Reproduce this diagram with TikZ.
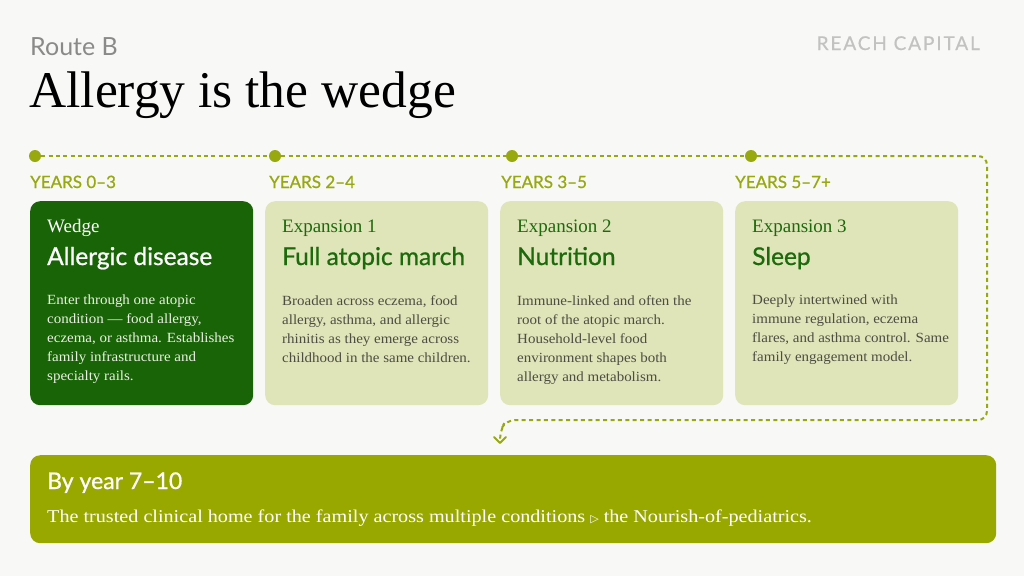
\documentclass[tikz,border=0pt]{standalone}
\usepackage{fontspec}
\setmainfont{Liberation Serif}
\setsansfont{Lato}
\newfontfamily\symfont{DejaVu Sans}
\usetikzlibrary{calc,arrows.meta}
\definecolor{bgc}{HTML}{F8F8F6}
\definecolor{dkgreen}{HTML}{1A6408}
\definecolor{hdgreen}{HTML}{1C6A0C}
\definecolor{ltcard}{HTML}{E0E4B9}
\definecolor{olive}{HTML}{99A800}
\definecolor{tlolive}{HTML}{97A90F}
\definecolor{bodygrey}{HTML}{4D4D42}
\definecolor{routegrey}{HTML}{8A8A88}
\definecolor{reachgrey}{HTML}{C2C2C0}
\definecolor{wbody}{HTML}{EAF0E2}
\tikzset{
  card/.style={rounded corners=10pt, minimum width=223pt, minimum height=204pt, anchor=north west, inner sep=0pt},
  dot/.style={circle, fill=tlolive, minimum size=12pt, inner sep=0pt},
  tl/.style={tlolive, line width=2pt, dash pattern=on 4pt off 3.4pt},
  yrs/.style={anchor=base west, inner sep=0pt, text=tlolive, font=\sffamily\fontsize{17}{18}\selectfont\addfontfeature{FakeBold=0.6}},
  sub/.style={anchor=base west, inner sep=0pt, font=\fontsize{19}{20}\selectfont},
  head/.style={anchor=base west, inner sep=0pt, font=\sffamily\fontsize{24.5}{26}\selectfont\addfontfeature{FakeBold=0.8}},
  body/.style={anchor=north west, inner sep=0pt, align=left, font=\fontsize{14}{19}\selectfont\addfontfeature{FakeStretch=1.07}},
}
\begin{document}
\begin{tikzpicture}[x=1pt,y=-1pt]
\fill[bgc] (0,0) rectangle (1024,576);
\useasboundingbox (0,0) rectangle (1024,576);
% header
\node[anchor=base west, inner sep=0pt, text=routegrey, font=\sffamily\fontsize{25}{26}\selectfont] (route) at (30,55) {Route B};
\node[anchor=base east, inner sep=0pt, text=reachgrey, font=\sffamily\fontsize{19}{20}\selectfont\addfontfeature{LetterSpace=10,FakeBold=0.5}] (reach) at (980,50) {REACH CAPITAL};
\node[anchor=base west, inner sep=0pt, font=\fontsize{51.5}{54}\selectfont] (title) at (29,107) {Allergy is the wedge};
% cards
\node[card, fill=dkgreen] (c1) at (30,201) {};
\node[card, fill=ltcard] (c2) at (265,201) {};
\node[card, fill=ltcard] (c3) at (500,201) {};
\node[card, fill=ltcard] (c4) at (735,201) {};
% bottom box
\node[rounded corners=10pt, fill=olive, minimum width=966pt, minimum height=88pt, anchor=north west, inner sep=0pt] (bot) at (30,455) {};
% timeline
\node[dot] (d1) at (35,156) {};
\node[dot] (d2) at (275,156) {};
\node[dot] (d3) at (512,156) {};
\node[dot] (d4) at (751,156) {};
\coordinate (k1) at (987,156);
\coordinate (k2) at (987,420);
\coordinate (k3) at (506,420);
\coordinate (tip) at ($(bot.north west)+(470,-12)$);
\draw[tl] (d1) -- (d2);
\draw[tl] (d2) -- (d3);
\draw[tl] (d3) -- (d4);
\draw[tl, rounded corners=9pt] (d4) -- (k1) -- (k2) -- (k3) -- ($(tip)+(0,-12)$) -- (tip);
\draw[tlolive, line width=2pt, line cap=round, line join=round] ($(tip)+(-6,-6)$) -- (tip) -- ($(tip)+(6,-6)$);
% year labels
\node[yrs] (y1) at (30,188) {YEARS 0–3};
\node[yrs] (y2) at (269,188) {YEARS 2–4};
\node[yrs] (y3) at (501,188) {YEARS 3–5};
\node[yrs] (y4) at (735,188) {YEARS 5–7+};
% card 1
\node[sub, text=white] (s1) at ($(c1.north west)+(17,31)$) {Wedge};
\node[head, text=white] (h1) at ($(c1.north west)+(17,64)$) {Allergic disease};
\node[body, text=wbody] (b1) at ($(c1.north west)+(17,94)$) {Enter through one atopic\\condition — food allergy,\\eczema, or asthma. Establishes\\family infrastructure and\\specialty rails.};
% card 2
\node[sub, text=hdgreen] (s2) at ($(c2.north west)+(17,31)$) {Expansion 1};
\node[head, text=hdgreen] (h2) at ($(c2.north west)+(17,64)$) {Full atopic march};
\node[body, text=bodygrey] (b2) at ($(c2.north west)+(17,94)$) {Broaden across eczema, food\\allergy, asthma, and allergic\\rhinitis as they emerge across\\childhood in the same children.};
% card 3
\node[sub, text=hdgreen] (s3) at ($(c3.north west)+(17,31)$) {Expansion 2};
\node[head, text=hdgreen] (h3) at ($(c3.north west)+(17,64)$) {Nutrition};
\node[body, text=bodygrey] (b3) at ($(c3.north west)+(17,94)$) {Immune-linked and often the\\root of the atopic march.\\Household-level food\\environment shapes both\\allergy and metabolism.};
% card 4
\node[sub, text=hdgreen] (s4) at ($(c4.north west)+(17,31)$) {Expansion 3};
\node[head, text=hdgreen] (h4) at ($(c4.north west)+(17,64)$) {Sleep};
\node[body, text=bodygrey] (b4) at ($(c4.north west)+(17,94)$) {Deeply intertwined with\\immune regulation, eczema\\flares, and asthma control. Same\\family engagement model.};
% bottom text
\node[anchor=base west, inner sep=0pt, text=white, font=\sffamily\fontsize{23}{24}\selectfont\addfontfeature{FakeBold=0.7}] (bh) at ($(bot.north west)+(17,34)$) {By year 7–10};
\node[anchor=base west, inner sep=0pt, text=white, font=\fontsize{18}{20}\selectfont\addfontfeature{FakeStretch=1.12}] (bt) at ($(bot.north west)+(17,67)$) {The trusted clinical home for the family across multiple conditions {\symfont\fontsize{11}{12}\selectfont ▷} the Nourish-of-pediatrics.};
\end{tikzpicture}
\end{document}
